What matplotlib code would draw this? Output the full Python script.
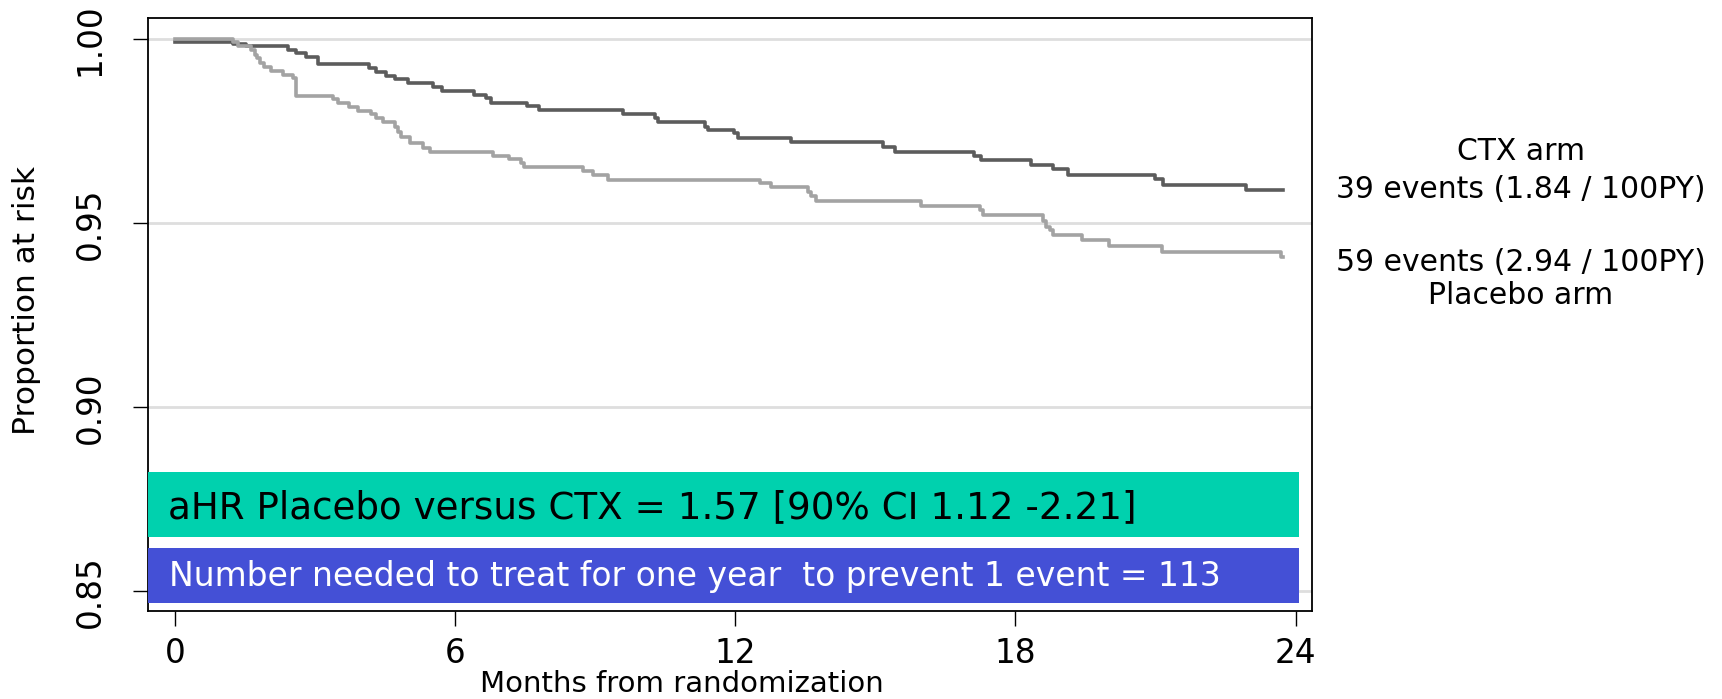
import matplotlib
matplotlib.use("Agg")
import matplotlib.pyplot as plt
from matplotlib.patches import Rectangle

# Kaplan-Meier style step curves
ctx_t = [0, 1.23, 1.52, 2.41, 2.59, 2.81, 3.06, 4.16, 4.31, 4.52, 4.70, 4.98, 5.52, 5.72,
         6.41, 6.66, 6.77, 7.53, 7.80, 9.59, 10.27, 10.34, 11.34, 11.41, 11.98, 12.05,
         13.20, 15.16, 15.41, 17.12, 17.27, 18.34, 18.80, 19.12, 20.98, 21.16, 22.94, 23.73]
ctx_s = [0.9994, 0.9987, 0.9981, 0.9971, 0.9962, 0.9951, 0.9933, 0.9921, 0.9910, 0.9901,
         0.9891, 0.9880, 0.9871, 0.9860, 0.9849, 0.9840, 0.9828, 0.9819, 0.9807, 0.9796,
         0.9785, 0.9775, 0.9763, 0.9753, 0.9745, 0.9732, 0.9720, 0.9708, 0.9695, 0.9684,
         0.9671, 0.9659, 0.9647, 0.9631, 0.9621, 0.9604, 0.9590, 0.9590]

pla_t = [0, 1.23, 1.34, 1.63, 1.70, 1.75, 1.81, 1.91, 2.06, 2.31, 2.52, 2.59,
         3.38, 3.48, 3.73, 3.91, 4.20, 4.31, 4.45, 4.70, 4.77, 4.84, 5.02, 5.30, 5.45,
         6.80, 7.16, 7.41, 7.48, 8.73, 8.95, 9.27,
         12.52, 12.77, 13.55, 13.62, 13.72, 15.98, 17.23, 17.30,
         18.59, 18.66, 18.73, 18.80, 19.43, 20.00, 21.14, 23.68, 23.73]
pla_s = [1.0, 0.9992, 0.9983, 0.9971, 0.9957, 0.9948, 0.9937, 0.9926, 0.9915, 0.9903,
         0.9894, 0.9847, 0.9838, 0.9826, 0.9817, 0.9805, 0.9796, 0.9785, 0.9775, 0.9763,
         0.9749, 0.9735, 0.9717, 0.9706, 0.9695, 0.9684, 0.9674, 0.9663, 0.9653, 0.9642,
         0.9630, 0.9619, 0.9609, 0.9598, 0.9586, 0.9574, 0.9562, 0.9548, 0.9536, 0.9523,
         0.9505, 0.9491, 0.9482, 0.9467, 0.9454, 0.9439, 0.9423, 0.9409, 0.9409]

x_ticks = [0, 6, 12, 18, 24]
y_ticks = [0.85, 0.90, 0.95, 1.00]
y_labels = ["0.85", "0.90", "0.95", "1.00"]

ctx_text = ["CTX arm", "39 events (1.84 / 100PY)"]
pla_text = ["59 events (2.94 / 100PY)", "Placebo arm"]
hr_text = "aHR Placebo versus CTX = 1.57 [90% CI 1.12 -2.21]"
nnt_text = "Number needed to treat for one year  to prevent 1 event = 113"

plt.rcParams["font.family"] = ["DejaVu Sans"]

W, H = 1722, 699
fig = plt.figure(figsize=(W / 100, H / 100), dpi=100)
ax = fig.add_axes([0.0861, 0.1263, 0.6760, 0.8475])

ax.step(ctx_t, ctx_s, where="post", color="#5c5c5c", lw=2.6, zorder=3)
ax.step(pla_t, pla_s, where="post", color="#a3a3a3", lw=2.6, zorder=3)

ax.set_xlim(-0.578, 24.36)
ax.set_ylim(0.84473, 1.00571)
ax.set_xticks(x_ticks)
ax.set_yticks(y_ticks)
ax.set_yticklabels(y_labels)
ax.yaxis.grid(True, color="#dedede", lw=2.0, zorder=0)
ax.set_axisbelow(True)

ax.tick_params(axis="both", direction="out", length=11, width=1.0, labelsize=23.5)
ax.tick_params(axis="x", pad=8)
ax.tick_params(axis="y", pad=19)
for lbl in ax.get_yticklabels():
    lbl.set_rotation(90)
    lbl.set_va("center")
for sp in ax.spines.values():
    sp.set_linewidth(1.3)
    sp.set_color("black")

# annotation boxes
x0 = ax.get_xlim()[0]
ax.add_patch(Rectangle((x0, 0.8648), 24.07 - x0, 0.8823 - 0.8648,
                       facecolor="#00d1ae", edgecolor="none", zorder=4, clip_on=False))
ax.add_patch(Rectangle((x0, 0.8469), 24.07 - x0, 0.8619 - 0.8469,
                       facecolor="#4450d6", edgecolor="none", zorder=4, clip_on=False))
ax.text(-0.148, 0.8699, hr_text, fontsize=26.8, color="black", va="baseline", zorder=5)
ax.text(-0.126, 0.8514, nnt_text, fontsize=23.8, color="white", va="baseline", zorder=5)

# labels
fig.text(682 / W, 1 - 692 / H, "Months from randomization", fontsize=21,
         ha="center", va="baseline")
fig.text(27 / W, 1 - 300 / H, "Proportion at risk", fontsize=22.5,
         rotation=90, ha="center", va="center")

for txt, yb in zip(ctx_text + pla_text, [159.7, 198, 271, 304.5]):
    fig.text(1521 / W, 1 - yb / H, txt, fontsize=21.5, ha="center", va="baseline")

fig.savefig("out.png", dpi=100)
